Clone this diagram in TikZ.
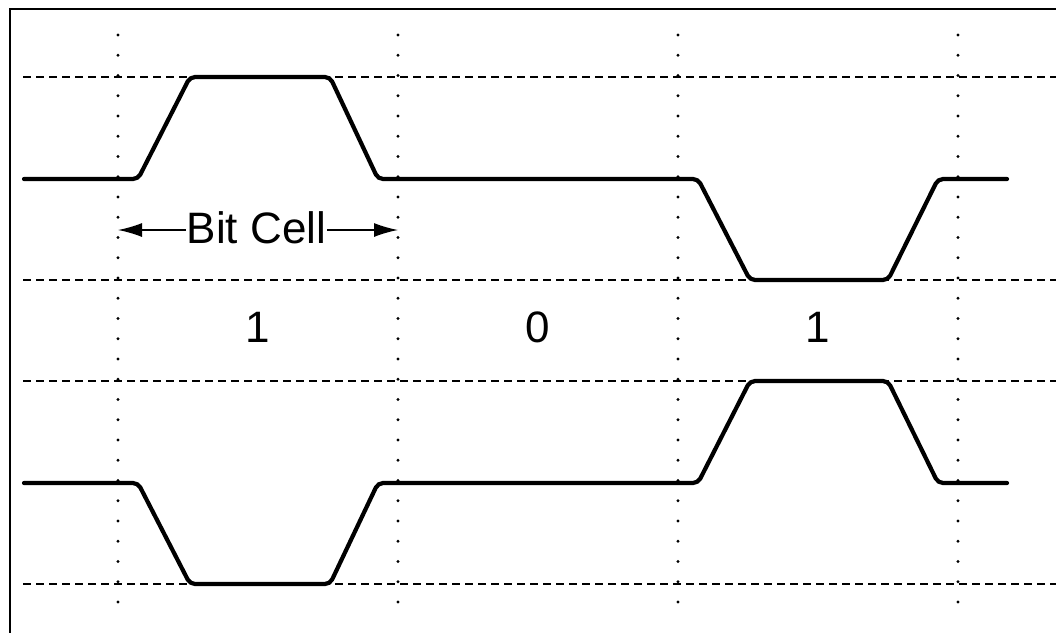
\documentclass[tikz,border=0pt]{standalone}
\usepackage{fontspec}
\setmainfont{Liberation Sans}
\usetikzlibrary{arrows.meta}

\tikzset{
	wave/.style={line width=4.2,rounded corners=5,line cap=round},
	level/.style={line width=2.2,dash pattern=on 8pt off 5pt},
	big/.style={font=\fontsize{44}{50}\selectfont,inner sep=1,anchor=base}
}

\begin{document}
\begin{tikzpicture}[x=1pt,y=-1pt]
			\useasboundingbox (0,0) rectangle (1056,632);
			\draw[line width=2.2] (10,640) -- (10,9) -- (1060,9);
			% levels and cell borders
			\foreach \y in {77,280,381,584} \draw[level] (23,\y) -- (1056,\y);
			\foreach \x in {118,398,678,958} \foreach \k in {0,...,28} \fill (\x,35+20.25*\k) circle (1.6);
			% the two signals
			\foreach \b/\h/\l in {179/77/280,483/584/381}
			\draw[wave] (24,\b) -- (138,\b) -- (190,\h) -- (330,\h) -- (378,\b) -- (698,\b) -- (750,\l) -- (888,\l) -- (938,\b) -- (1007,\b);
			\path
			(118,230) coordinate (cellL)
			(398,230) coordinate (cellR)
			;
			\node[big] (bitcell) at (256.5,243) {Bit Cell};
			\draw[-{Latex[length=24pt,width=14pt]},line width=1.4] (bitcell.west |- cellL) -- (cellL);
			\draw[-{Latex[length=24pt,width=14pt]},line width=1.4] (bitcell.east |- cellR) -- (cellR);
			\foreach \x/\d/\n in {258/1/a,538/0/b,818/1/c} \node[big] (bit\n) at (\x,342) {\d};
		\end{tikzpicture}
\end{document}
